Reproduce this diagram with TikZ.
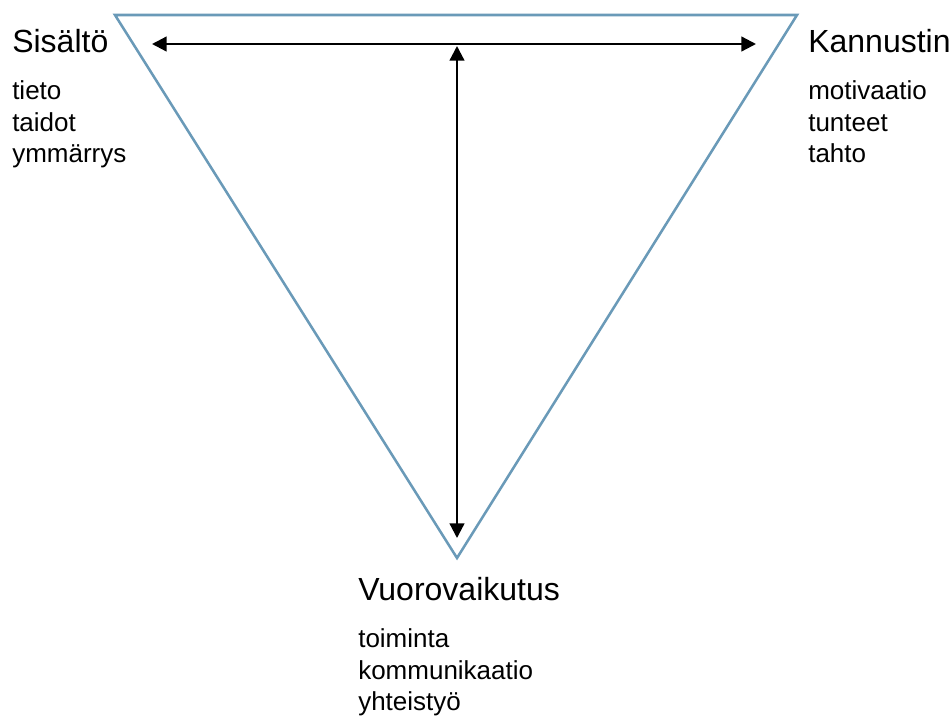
\documentclass[tikz,border=0pt]{standalone}
\usepackage{fontspec}
\setmainfont{Liberation Sans}
\usetikzlibrary{arrows.meta}
\definecolor{tri}{HTML}{6A9AB8}
\begin{document}
\begin{tikzpicture}[x=0.75pt,y=-0.75pt,
  title/.style={anchor=base west,inner sep=0pt,font=\fontsize{24}{28}\selectfont},
  sub/.style={anchor=base west,inner sep=0pt,font=\fontsize{19.5}{24}\selectfont},
  conn/.style={line width=1.7pt,{Triangle[length=11pt,width=11pt]}-{Triangle[length=11pt,width=11pt]}}]
\useasboundingbox (0,0) rectangle (952,715);
\coordinate (tl) at (115,15);
\coordinate (tr) at (797,15);
\coordinate (bt) at (457,558);
\draw[tri,line width=1.9pt,line join=miter] (tl) -- (tr) -- (bt) -- cycle;
\coordinate (hl) at (152,44);
\coordinate (hr) at (756,44);
\coordinate (vt) at (457,46);
\coordinate (vb) at (457,538);
\draw[conn] (hl) -- (hr);
\draw[conn] (vt) -- (vb);
\node[title] (s) at (12,52) {Sisältö};
\node[sub] (s1) at (12,99) {tieto};
\node[sub] (s2) at (12,131) {taidot};
\node[sub] (s3) at (12,162) {ymmärrys};
\node[title] (k) at (808,52) {Kannustin};
\node[sub] (k1) at (808,99) {motivaatio};
\node[sub] (k2) at (808,131) {tunteet};
\node[sub] (k3) at (808,162) {tahto};
\node[title] (v) at (358,600) {Vuorovaikutus};
\node[sub] (v1) at (358,647) {toiminta};
\node[sub] (v2) at (358,679) {kommunikaatio};
\node[sub] (v3) at (358,710) {yhteistyö};
\end{tikzpicture}
\end{document}
